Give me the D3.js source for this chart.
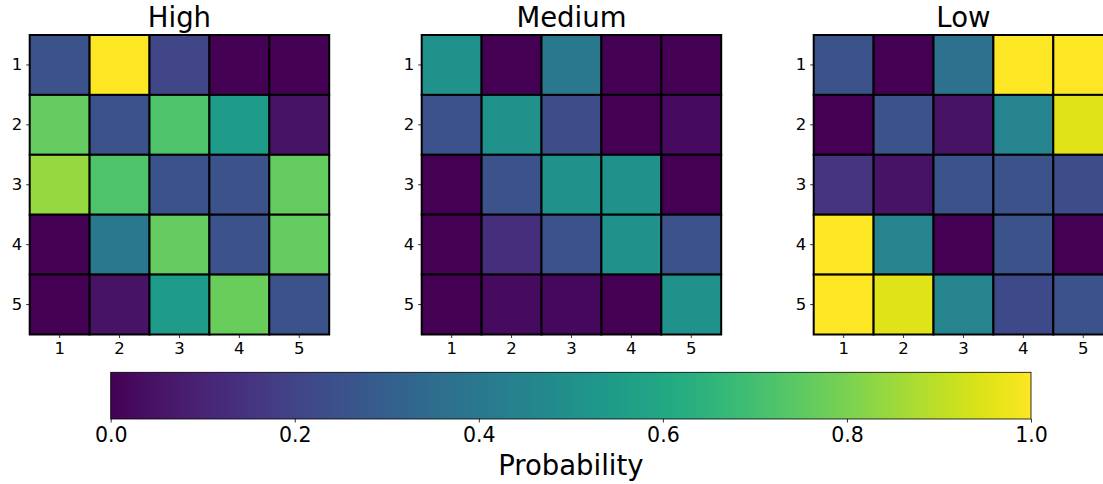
<!DOCTYPE html>
<html>
<head>
<meta charset="utf-8">
<script src="https://cdn.jsdelivr.net/npm/d3@7"></script>
<style>
  body { margin: 0; background: #fff; }
  text { font-family: "DejaVu Sans", sans-serif; fill: #000; }
</style>
</head>
<body>
<div id="chart"></div>
<script>
// probability grids, rows 1..5 (top to bottom), cols 1..5
var highData = [
    [0.25, 1.00, 0.21, 0.00, 0.00],
    [0.76, 0.25, 0.72, 0.55, 0.05],
    [0.84, 0.72, 0.25, 0.25, 0.76],
    [0.00, 0.40, 0.76, 0.25, 0.76],
    [0.00, 0.05, 0.55, 0.77, 0.25]
];
var mediumData = [
    [0.50, 0.00, 0.40, 0.00, 0.00],
    [0.25, 0.50, 0.23, 0.00, 0.03],
    [0.00, 0.25, 0.50, 0.50, 0.00],
    [0.00, 0.13, 0.25, 0.50, 0.25],
    [0.00, 0.03, 0.02, 0.00, 0.50]
];
var lowData = [
    [0.25, 0.00, 0.37, 1.00, 1.00],
    [0.00, 0.25, 0.05, 0.45, 0.95],
    [0.15, 0.05, 0.25, 0.25, 0.23],
    [1.00, 0.45, 0.00, 0.25, 0.00],
    [1.00, 0.95, 0.45, 0.22, 0.25]
];
var panelTitles = ["High", "Medium", "Low"];
var labels = [1, 2, 3, 4, 5];
var cbarTicks = [0, 0.2, 0.4, 0.6, 0.8, 1.0];

function init() {
    const width = 1103, height = 484;
    const panels = [highData, mediumData, lowData];
    const size = 299.5;
    const lefts = [29.7, 421.7, 813.7];
    const top = 35;

    var svg = d3.select("#chart")
        .append("svg")
        .attr("width", width)
        .attr("height", height);

    var color = d3.scaleSequential(d3.interpolateViridis).domain([0, 1]);

    panels.forEach(function (grid, p) {
        var x = d3.scaleBand().domain(labels).range([0, size]);
        var y = d3.scaleBand().domain(labels).range([0, size]);

        var g = svg.append("g")
            .attr("transform", `translate(${lefts[p]},${top})`);

        // cells
        grid.forEach(function (row, r) {
            g.selectAll("rect.r" + r)
                .data(row)
                .enter()
                .append("rect")
                .attr("x", (d, c) => x(labels[c]))
                .attr("y", y(labels[r]))
                .attr("width", x.bandwidth())
                .attr("height", y.bandwidth())
                .attr("fill", d => color(d))
                .attr("stroke", "#000")
                .attr("stroke-width", 2);
        });

        // axes
        var xAxis = g.append("g")
            .attr("transform", `translate(0,${size})`)
            .call(d3.axisBottom(x).tickSize(3.5).tickPadding(4));
        var yAxis = g.append("g")
            .call(d3.axisLeft(y).tickSize(3.5).tickPadding(4));
        [xAxis, yAxis].forEach(function (a) {
            a.attr("font-size", null).attr("font-family", null);
            a.select(".domain").remove();
            a.selectAll("text").style("font-size", "16.5px");
            a.selectAll("line").attr("stroke", "#000").attr("stroke-width", 0.8);
        });

        // title
        g.append("text")
            .attr("x", size / 2)
            .attr("y", -8)
            .attr("text-anchor", "middle")
            .style("font-size", "27.5px")
            .text(panelTitles[p]);
    });

    // colorbar
    const cbLeft = 110.7, cbRight = 1031, cbTop = 372.3, cbBottom = 419;
    var defs = svg.append("defs");
    var grad = defs.append("linearGradient").attr("id", "viridis");
    d3.range(0, 1.0001, 0.02).forEach(function (t) {
        grad.append("stop")
            .attr("offset", (t * 100) + "%")
            .attr("stop-color", color(t));
    });
    svg.append("rect")
        .attr("x", cbLeft)
        .attr("y", cbTop)
        .attr("width", cbRight - cbLeft)
        .attr("height", cbBottom - cbTop)
        .attr("fill", "url(#viridis)")
        .attr("stroke", "#000")
        .attr("stroke-width", 0.8);

    var cbScale = d3.scaleLinear().domain([0, 1]).range([cbLeft, cbRight]);
    var cbAxis = svg.append("g")
        .attr("transform", `translate(0,${cbBottom})`)
        .call(d3.axisBottom(cbScale).tickValues(cbarTicks).tickFormat(d3.format(".1f")).tickSize(3.5).tickPadding(5));
    cbAxis.attr("font-size", null).attr("font-family", null);
    cbAxis.select(".domain").remove();
    cbAxis.selectAll("text").style("font-size", "20.5px");
    cbAxis.selectAll("line").attr("stroke", "#000").attr("stroke-width", 0.8);

    svg.append("text")
        .attr("x", (cbLeft + cbRight) / 2)
        .attr("y", 475)
        .attr("text-anchor", "middle")
        .style("font-size", "27.5px")
        .text("Probability");
}

init();
</script>
</body>
</html>
